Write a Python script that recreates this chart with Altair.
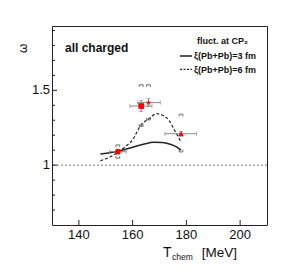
import altair as alt
import pandas as pd

# ---- data ----
solid_T = [148, 152, 156, 160, 164, 168, 171, 174, 176, 178]
solid_w = [1.075, 1.085, 1.100, 1.120, 1.140, 1.153, 1.152, 1.140, 1.125, 1.100]

dash_T = [148, 151, 154, 157, 160, 163, 166, 169, 171, 173.5, 176, 178]
dash_w = [1.03, 1.05, 1.08, 1.12, 1.17, 1.265, 1.31, 1.344, 1.335, 1.30, 1.22, 1.155]

pt_name = ["circle", "square", "star", "triangle"]
pt_T = [154.5, 163.2, 165.9, 178.0]
pt_w = [1.09, 1.395, 1.418, 1.21]
pt_xlo = [151.4, 159.0, 161.9, 172.0]
pt_xhi = [157.6, 167.2, 170.3, 183.8]
pt_ylo = [1.075, 1.358, 1.391, 1.195]
pt_yhi = [1.105, 1.432, 1.445, 1.225]
sys_hi = [1.128, 1.530, 1.530, 1.333]
sys_lo = [1.054, 1.266, 1.310, 1.096]

y_major = [1.0, 1.5]
y_labels = ["1", "1.5"]
y_minor = [0.7, 0.8, 0.9, 1.1, 1.2, 1.3, 1.4, 1.6, 1.7, 1.8, 1.9]
x_major = [140, 160, 180, 200]
x_labels = ["140", "160", "180", "200"]

W, H = 215, 199
FONT = "Liberation Sans"

xs = alt.Scale(domain=[130, 210], nice=False, zero=False)
ys = alt.Scale(domain=[0.6, 1.93], nice=False, zero=False)

pts = pd.DataFrame({"name": pt_name, "T": pt_T, "w": pt_w, "xlo": pt_xlo,
                    "xhi": pt_xhi, "ylo": pt_ylo, "yhi": pt_yhi,
                    "shi": sys_hi, "slo": sys_lo})

X0 = alt.X("T:Q", scale=xs, axis=None)
Y0 = alt.Y("w:Q", scale=ys, axis=None)

# tick labels
xlab = alt.Chart(pd.DataFrame({"T": x_major, "lab": x_labels})).mark_text(
    font=FONT, fontSize=13, color="#111", baseline="top", align="center").encode(
    x=X0, y=alt.value(H + 4), text="lab:N")
ylab = alt.Chart(pd.DataFrame({"w": y_major, "lab": y_labels})).mark_text(
    font=FONT, fontSize=13, color="#111", baseline="middle", align="right").encode(
    y=Y0, x=alt.value(-2), text="lab:N")

# ticks drawn inward
ytick_major = alt.Chart(pd.DataFrame({"w": y_major})).mark_rule(color="#222", strokeWidth=1).encode(
    y=Y0, x=alt.value(0), x2=alt.value(5))
ytick_minor = alt.Chart(pd.DataFrame({"w": y_minor})).mark_rule(color="#222", strokeWidth=1).encode(
    y=Y0, x=alt.value(0), x2=alt.value(3))
xtick = alt.Chart(pd.DataFrame({"T": x_major})).mark_rule(color="#222", strokeWidth=1).encode(
    x=X0, y=alt.value(H), y2=alt.value(H - 5))

one = alt.Chart(pd.DataFrame({"w": [1.0]})).mark_rule(
    color="#555", strokeWidth=0.8, strokeDash=[2, 2]).encode(y=Y0)

solid = alt.Chart(pd.DataFrame({"T": solid_T, "w": solid_w})).mark_line(
    color="#222", strokeWidth=1.5, interpolate="monotone").encode(x=X0, y=Y0)
dashed = alt.Chart(pd.DataFrame({"T": dash_T, "w": dash_w})).mark_line(
    color="#222", strokeWidth=1.2, strokeDash=[3, 2], interpolate="monotone").encode(x=X0, y=Y0)

base = alt.Chart(pts)
xerr = base.mark_rule(color="#888", strokeWidth=1).encode(
    x=alt.X("xlo:Q", scale=xs, axis=None), x2="xhi:Q", y=Y0)
xcap_lo = base.mark_tick(color="#888", orient="vertical", size=4, thickness=1).encode(
    x=alt.X("xlo:Q", scale=xs, axis=None), y=Y0)
xcap_hi = base.mark_tick(color="#888", orient="vertical", size=4, thickness=1).encode(
    x=alt.X("xhi:Q", scale=xs, axis=None), y=Y0)
yerr = base.mark_rule(color="#888", strokeWidth=1).encode(
    x=X0, y=alt.Y("ylo:Q", scale=ys, axis=None), y2="yhi:Q")
ycap_lo = base.mark_tick(color="#888", orient="horizontal", size=4, thickness=1).encode(
    x=X0, y=alt.Y("ylo:Q", scale=ys, axis=None))
ycap_hi = base.mark_tick(color="#888", orient="horizontal", size=4, thickness=1).encode(
    x=X0, y=alt.Y("yhi:Q", scale=ys, axis=None))

top_br = "M-1,0.6 L-1,-0.6 L1,-0.6 L1,0.6"
bot_br = "M-1,-0.6 L-1,0.6 L1,0.6 L1,-0.6"
sys_top = base.mark_point(shape=top_br, size=14, filled=False, color="#333", strokeWidth=1).encode(
    x=X0, y=alt.Y("shi:Q", scale=ys, axis=None))
sys_bot = base.mark_point(shape=bot_br, size=14, filled=False, color="#333", strokeWidth=1).encode(
    x=X0, y=alt.Y("slo:Q", scale=ys, axis=None))

star = ("M0,-1 L0.235,-0.324 L0.951,-0.309 L0.380,0.124 L0.588,0.809 L0,0.4 "
        "L-0.588,0.809 L-0.380,0.124 L-0.951,-0.309 L-0.235,-0.324 Z")
markers = base.mark_point(filled=True, opacity=1, strokeWidth=0).encode(
    x=X0, y=Y0,
    shape=alt.Shape("name:N", scale=alt.Scale(domain=pt_name,
                    range=["circle", "square", star, "triangle-up"]), legend=None),
    size=alt.Size("name:N", scale=alt.Scale(domain=pt_name, range=[32, 34, 70, 40]), legend=None),
    color=alt.value("#ff0000"),
)

# texts
def txt(s, x, y, size, weight="normal", **kw):
    return alt.Chart(pd.DataFrame({"t": [s]})).mark_text(
        font=FONT, fontSize=size, fontWeight=weight, color="#111",
        align=kw.pop("align", "left"), baseline=kw.pop("baseline", "alphabetic"), **kw
    ).encode(text="t:N", x=alt.value(x), y=alt.value(y))

t_all = txt("all charged", 13, 25.7, 12, "bold")
t_fl = txt("fluct. at CP\u2082", 145, 17.5, 9, "bold")
t_3 = txt("\u03be(Pb+Pb)=3 fm", 142, 33.2, 9, "bold")
t_6 = txt("\u03be(Pb+Pb)=6 fm", 142, 46.6, 9, "bold")
leg_s = alt.Chart(pd.DataFrame({"a": [0]})).mark_rule(color="#222", strokeWidth=1.5).encode(
    x=alt.value(128), x2=alt.value(140), y=alt.value(30))
leg_d = alt.Chart(pd.DataFrame({"a": [0]})).mark_rule(color="#222", strokeWidth=1.2, strokeDash=[2, 1.5]).encode(
    x=alt.value(128), x2=alt.value(140), y=alt.value(43.3))

t_om = txt("\u03c9", -28.7, 22.3, 12, align="center", baseline="middle", angle=270)
t_T = txt("T", 111, 231, 14)
t_chem = txt("chem", 120, 234, 8.5)
t_mev = txt("[MeV]", 149.7, 231, 13.5)

chart = alt.layer(
    one, dashed, solid, xerr, xcap_lo, xcap_hi, yerr, ycap_lo, ycap_hi,
    sys_top, sys_bot, markers, ytick_major, ytick_minor, xtick, xlab, ylab,
    t_all, t_fl, t_3, t_6, leg_s, leg_d, t_om, t_T, t_chem, t_mev
).properties(
    width=W, height=H,
    autosize=alt.AutoSizeParams(type="none"),
    padding={"left": 44, "top": 18, "right": 16, "bottom": 40},
    background="white",
).configure_view(stroke="#222", strokeWidth=1)

chart.save("out.html", embed_options={"renderer": "svg", "actions": False})
